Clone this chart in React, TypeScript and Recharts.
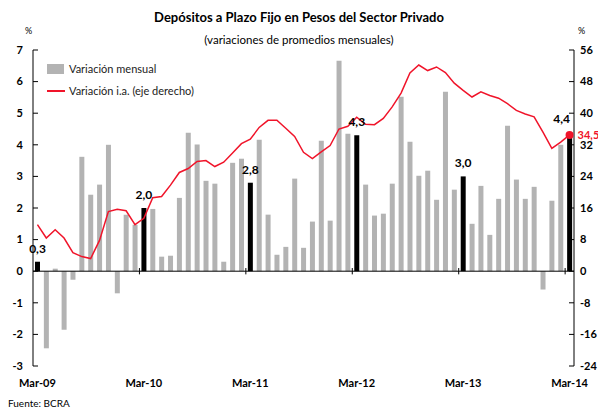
import React from 'react';
import { ComposedChart, Bar, Line, XAxis, YAxis, Cell, LabelList, ReferenceLine } from 'recharts';

const meses = [
  'Mar-09', 'Abr-09', 'May-09', 'Jun-09', 'Jul-09', 'Ago-09', 'Sep-09', 'Oct-09', 'Nov-09', 'Dic-09',
  'Ene-10', 'Feb-10', 'Mar-10', 'Abr-10', 'May-10', 'Jun-10', 'Jul-10', 'Ago-10', 'Sep-10', 'Oct-10', 'Nov-10', 'Dic-10',
  'Ene-11', 'Feb-11', 'Mar-11', 'Abr-11', 'May-11', 'Jun-11', 'Jul-11', 'Ago-11', 'Sep-11', 'Oct-11', 'Nov-11', 'Dic-11',
  'Ene-12', 'Feb-12', 'Mar-12', 'Abr-12', 'May-12', 'Jun-12', 'Jul-12', 'Ago-12', 'Sep-12', 'Oct-12', 'Nov-12', 'Dic-12',
  'Ene-13', 'Feb-13', 'Mar-13', 'Abr-13', 'May-13', 'Jun-13', 'Jul-13', 'Ago-13', 'Sep-13', 'Oct-13', 'Nov-13', 'Dic-13',
  'Ene-14', 'Feb-14', 'Mar-14',
];

// variación mensual (%), eje izquierdo
const mensual = [
  0.3, -2.44, 0.08, -1.85, -0.27, 3.62, 2.42, 2.74, 4.0, -0.7,
  1.79, 1.47, 2.0, 1.97, 0.46, 0.49, 2.32, 4.38, 4.01, 2.86, 2.77, 0.3,
  3.43, 3.56, 2.8, 4.16, 1.79, 0.52, 0.77, 2.93, 0.74, 1.57, 4.13, 1.6,
  6.66, 4.35, 4.3, 2.74, 1.76, 1.82, 2.77, 5.52, 4.1, 3.02, 3.18, 2.26,
  5.68, 2.58, 3.0, 1.5, 2.7, 1.15, 2.29, 4.6, 2.9, 2.29, 2.67, -0.58,
  2.23, 4.0, 4.4,
];

// variación interanual (%), eje derecho
const interanual = [
  11.8, 8.4, 10.5, 8.4, 4.7, 3.7, 3.2, 7.8, 15.1, 15.7,
  15.3, 11.8, 13.4, 18.6, 18.9, 21.8, 25.0, 26.0, 27.8, 28.0, 26.5, 27.6,
  29.9, 32.3, 33.4, 36.4, 38.2, 38.2, 36.2, 34.1, 30.1, 28.5, 30.2, 31.8,
  36.0, 36.7, 39.0, 37.2, 37.1, 38.7, 41.6, 45.1, 50.2, 52.2, 50.8, 51.7,
  50.3, 47.6, 45.8, 44.1, 45.4, 44.5, 43.8, 42.4, 40.7, 39.8, 39.1, 35.2,
  31.1, 32.7, 34.5,
];

const marzos = ['Mar-09', 'Mar-10', 'Mar-11', 'Mar-12', 'Mar-13', 'Mar-14'];
const ticksIzq = [-3, -2, -1, 0, 1, 2, 3, 4, 5, 6, 7];
const ticksDer = [-24, -16, -8, 0, 8, 16, 24, 32, 40, 48, 56];

const data = meses.map((mes, i) => ({ mes, mensual: mensual[i], ia: interanual[i] }));

const FONT = 'Lato, "Open Sans", sans-serif';
const GRIS = '#b3b3b3';
const ROJO = '#f0142a';
const ultimo = meses.length - 1;

const coma = (v: number) => v.toFixed(1).replace('.', ',');

const TickIzq = ({ x, y, payload }: any) => (
  <g>
    <text x={x} y={y} dy="0.35em" textAnchor="end" fontSize={11} fontWeight={700} fill="#000" fontFamily={FONT}>
      {payload.value}
    </text>
    <line x1={x + 10} x2={x + 15} y1={y} y2={y} stroke="#000" />
  </g>
);

const TickDer = ({ x, y, payload }: any) => (
  <g>
    <text x={x} y={y} dy="0.35em" textAnchor="start" fontSize={11} fontWeight={700} fill="#000" fontFamily={FONT}>
      {payload.value}
    </text>
    <line x1={x - 6} x2={x - 11} y1={y} y2={y} stroke="#000" />
  </g>
);

const TickX = ({ x, y, payload }: any) => (
  <text x={x} y={y} dy={11} textAnchor="middle" fontSize={11} fontWeight={700} fill="#000" fontFamily={FONT}>
    {payload.value}
  </text>
);

export default function App() {
  return (
    <div style={{ position: 'absolute', left: 0, top: 0, width: 598, height: 410, background: '#fff', fontFamily: FONT, overflow: 'hidden' }}>
      <div style={{ position: 'absolute', top: 9, width: 598, textAlign: 'center', fontSize: 13, fontWeight: 700, color: '#000' }}>
        Depósitos a Plazo Fijo en Pesos del Sector Privado
      </div>
      <div style={{ position: 'absolute', top: 33, width: 598, textAlign: 'center', fontSize: 11.5, color: '#000' }}>
        (variaciones de promedios mensuales)
      </div>
      <div style={{ position: 'absolute', top: 25, left: 25, fontSize: 9, color: '#000' }}>%</div>
      <div style={{ position: 'absolute', top: 25, left: 578, fontSize: 9, color: '#000' }}>%</div>

      <ComposedChart
        width={598}
        height={410}
        data={data}
        margin={{ top: 50, right: 0, left: 5, bottom: 14 }}
        barCategoryGap={0}
      >
        <XAxis
          dataKey="mes"
          ticks={marzos}
          interval={0}
          axisLine={false}
          tickLine={false}
          tickSize={0}
          tickMargin={10}
          height={30}
          tick={<TickX />}
        />
        <YAxis
          yAxisId="izq"
          orientation="left"
          domain={[-3, 7]}
          ticks={ticksIzq}
          interval={0}
          width={28}
          axisLine={{ stroke: '#000' }}
          tickLine={false}
          tickSize={0}
          tickMargin={10}
          tick={<TickIzq />}
        />
        <YAxis
          yAxisId="der"
          orientation="right"
          domain={[-24, 56]}
          ticks={ticksDer}
          interval={0}
          width={24}
          axisLine={{ stroke: '#000' }}
          tickLine={false}
          tickSize={0}
          tickMargin={6}
          tick={<TickDer />}
        />
        <ReferenceLine yAxisId="izq" y={0} stroke="#000" />
        {marzos.slice(1).map((m) => (
          <ReferenceLine
            key={m}
            yAxisId="izq"
            position="start"
            segment={[{ x: m, y: -0.1 }, { x: m, y: 0.1 }]}
            stroke="#000"
          />
        ))}
        <Bar yAxisId="izq" dataKey="mensual" barSize={5} isAnimationActive={false} name="Variación mensual">
          {data.map((d) => (
            <Cell key={d.mes} fill={marzos.includes(d.mes) ? '#000' : GRIS} />
          ))}
          <LabelList
            dataKey="mensual"
            content={(p: any) =>
              marzos.includes(meses[p.index]) ? (
                <text
                  x={p.x + p.width / 2 - (p.index === ultimo ? 8 : 0)}
                  y={p.y - 9}
                  textAnchor="middle"
                  fontSize={12}
                  fontWeight={700}
                  fill="#000"
                  fontFamily={FONT}
                >
                  {coma(p.value)}
                </text>
              ) : null
            }
          />
        </Bar>
        <Line
          yAxisId="der"
          type="linear"
          dataKey="ia"
          stroke={ROJO}
          strokeWidth={1.5}
          isAnimationActive={false}
          name="Variación i.a. (eje derecho)"
          dot={(p: any) =>
            p.index === ultimo ? (
              <circle key={`d${p.index}`} cx={p.cx} cy={p.cy} r={4} fill={ROJO} />
            ) : (
              <g key={`d${p.index}`} />
            )
          }
          activeDot={false}
        >
          <LabelList
            dataKey="ia"
            content={(p: any) =>
              p.index === ultimo ? (
                <text x={p.x + 8} y={p.y + 4} textAnchor="start" fontSize={11} fontWeight={700} fill={ROJO} fontFamily={FONT}>
                  {coma(p.value)}
                </text>
              ) : null
            }
          />
        </Line>
      </ComposedChart>

      <div style={{ position: 'absolute', top: 58, left: 47, fontSize: 11, color: '#222', lineHeight: '22px' }}>
        <div style={{ display: 'flex', alignItems: 'center' }}>
          <span style={{ display: 'inline-block', width: 17, height: 10, background: GRIS, marginRight: 5 }} />
          Variación mensual
        </div>
        <div style={{ display: 'flex', alignItems: 'center' }}>
          <span style={{ display: 'inline-block', width: 18, height: 2, background: ROJO, marginRight: 4 }} />
          Variación i.a. (eje derecho)
        </div>
      </div>

      <div style={{ position: 'absolute', top: 397, left: 8, fontSize: 10, color: '#000' }}>Fuente: BCRA</div>
    </div>
  );
}
